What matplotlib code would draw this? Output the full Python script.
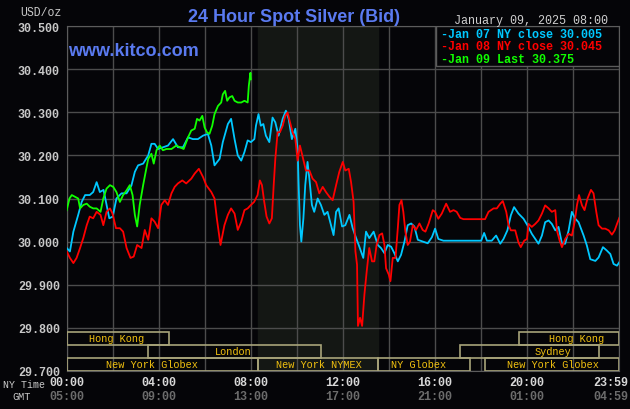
import matplotlib
matplotlib.use("Agg")
import matplotlib.pyplot as plt
from matplotlib.patches import Rectangle

# Kitco 24 hour spot silver (hour of NY day, USD/oz)
jan07_hours = [0.0, 0.14, 0.29, 0.5, 0.65, 0.8, 1.0, 1.15, 1.3, 1.44, 1.6, 1.73, 1.85, 2.0, 2.16, 2.38,
               2.6, 2.81, 2.96, 3.1, 3.32, 3.54, 3.68, 3.82, 3.97, 4.18, 4.4, 4.62, 4.83, 5.05, 5.27,
               5.48, 5.7, 5.92, 6.13, 6.28, 6.42, 6.64, 6.78, 7.0, 7.14, 7.29, 7.43, 7.58, 7.72, 7.86,
               8.0, 8.15, 8.22, 8.33, 8.43, 8.54, 8.65, 8.8, 8.94, 9.06, 9.2, 9.38, 9.52, 9.64, 9.78,
               9.93, 10.03, 10.07, 10.13, 10.19, 10.28, 10.36, 10.46, 10.54, 10.65, 10.75, 10.9, 11.04,
               11.19, 11.33, 11.48, 11.59, 11.7, 11.81, 11.96, 12.1, 12.28, 12.42, 12.57, 12.71, 12.88,
               13.0, 13.14, 13.33, 13.51, 13.65, 13.8, 13.94, 14.09, 14.23, 14.38, 14.52, 14.67, 14.81,
               14.96, 15.1, 15.25, 15.46, 15.68, 15.86, 16.0, 16.14, 16.36, 16.8, 17.38, 18.0, 18.13,
               18.25, 18.46, 18.65, 18.83, 18.97, 19.14, 19.29, 19.43, 19.62, 19.84, 20.01, 20.2, 20.49,
               20.64, 20.78, 20.93, 21.07, 21.22, 21.36, 21.51, 21.65, 21.8, 21.94, 22.09, 22.23, 22.45,
               22.59, 22.74, 22.96, 23.1, 23.29, 23.46, 23.61, 23.75, 23.9, 24.0]
jan07_price = [29.985, 29.977, 30.023, 30.062, 30.092, 30.108, 30.108, 30.115, 30.138, 30.115, 30.12,
               30.085, 30.054, 30.058, 30.1, 30.112, 30.112, 30.13, 30.162, 30.177, 30.181, 30.2, 30.227,
               30.227, 30.215, 30.219, 30.223, 30.238, 30.219, 30.219, 30.242, 30.238, 30.238, 30.246,
               30.25, 30.223, 30.177, 30.192, 30.231, 30.273, 30.285, 30.238, 30.2, 30.188, 30.208,
               30.235, 30.231, 30.238, 30.269, 30.296, 30.269, 30.273, 30.246, 30.231, 30.288, 30.277,
               30.246, 30.285, 30.304, 30.285, 30.238, 30.262, 30.215, 30.138, 30.038, 30.0, 30.054,
               30.131, 30.185, 30.146, 30.085, 30.069, 30.1, 30.085, 30.062, 30.069, 30.038, 30.015,
               30.069, 30.077, 30.035, 30.038, 30.062, 30.031, 30.008, 29.988, 29.962, 30.023, 30.008,
               30.023, 29.992, 29.985, 29.973, 29.992, 29.988, 29.973, 29.954, 29.969, 30.0, 30.038,
               30.042, 30.035, 30.004, 30.0, 29.996, 30.01, 30.03, 30.006, 30.002, 30.002, 30.002,
               30.002, 30.02, 30.002, 30.002, 30.014, 29.995, 30.006, 30.026, 30.061, 30.08, 30.065,
               30.053, 30.038, 30.018, 29.995, 30.014, 30.045, 30.049, 30.041, 30.026, 30.034, 29.995,
               29.995, 30.026, 30.069, 30.053, 30.045, 30.014, 29.991, 29.959, 29.955, 29.963, 29.987,
               29.979, 29.971, 29.948, 29.944, 29.952]

jan08_hours = [0.0, 0.14, 0.29, 0.43, 0.58, 0.72, 0.87, 1.0, 1.15, 1.3, 1.47, 1.59, 1.73, 1.88, 1.99,
               2.14, 2.31, 2.45, 2.6, 2.77, 2.91, 3.06, 3.25, 3.39, 3.54, 3.68, 3.82, 3.97, 4.11, 4.26,
               4.4, 4.55, 4.69, 4.83, 5.02, 5.19, 5.41, 5.56, 5.74, 5.92, 6.06, 6.28, 6.42, 6.52, 6.68,
               6.85, 7.0, 7.14, 7.29, 7.43, 7.58, 7.72, 7.86, 8.0, 8.14, 8.29, 8.39, 8.48, 8.58, 8.68,
               8.8, 8.91, 8.99, 9.06, 9.16, 9.26, 9.38, 9.49, 9.59, 9.7, 9.81, 9.93, 10.03, 10.13,
               10.25, 10.39, 10.54, 10.68, 10.83, 10.97, 11.12, 11.26, 11.41, 11.55, 11.7, 11.84,
               11.99, 12.1, 12.25, 12.35, 12.46, 12.54, 12.61, 12.65, 12.74, 12.83, 12.93, 13.03,
               13.14, 13.26, 13.36, 13.46, 13.58, 13.7, 13.8, 13.87, 13.99, 14.06, 14.16, 14.28,
               14.38, 14.45, 14.54, 14.62, 14.71, 14.81, 14.91, 15.03, 15.17, 15.32, 15.46, 15.58,
               15.72, 15.9, 16.0, 16.14, 16.29, 16.48, 16.65, 16.8, 16.94, 17.09, 17.23, 17.65,
               18.17, 18.32, 18.54, 18.68, 18.83, 18.94, 19.09, 19.19, 19.29, 19.48, 19.62, 19.72,
               19.87, 19.99, 20.06, 20.2, 20.35, 20.49, 20.64, 20.78, 20.93, 21.07, 21.22, 21.29,
               21.41, 21.51, 21.65, 21.8, 21.94, 22.06, 22.16, 22.25, 22.38, 22.49, 22.62, 22.77,
               22.88, 23.0, 23.1, 23.25, 23.39, 23.54, 23.68, 23.8, 23.9, 24.0]
jan08_price = [29.977, 29.962, 29.95, 29.962, 29.985, 30.008, 30.038, 30.058, 30.054, 30.069, 30.062,
               30.038, 30.069, 30.077, 30.065, 30.031, 30.031, 30.023, 29.985, 29.962, 29.965, 29.992,
               29.985, 30.027, 30.004, 30.054, 30.046, 30.031, 30.085, 30.096, 30.085, 30.112, 30.127,
               30.135, 30.142, 30.135, 30.146, 30.158, 30.169, 30.15, 30.131, 30.115, 30.1, 30.054,
               29.992, 30.038, 30.062, 30.077, 30.065, 30.027, 30.046, 30.073, 30.077, 30.085, 30.092,
               30.108, 30.142, 30.131, 30.092, 30.058, 30.042, 30.054, 30.131, 30.192, 30.254, 30.254,
               30.269, 30.292, 30.3, 30.277, 30.254, 30.238, 30.188, 30.223, 30.196, 30.165, 30.165,
               30.146, 30.138, 30.112, 30.127, 30.115, 30.104, 30.096, 30.131, 30.162, 30.185, 30.165,
               30.169, 30.138, 30.092, 29.977, 29.946, 29.804, 29.823, 29.804, 29.877, 29.931, 29.985,
               29.954, 29.954, 29.992, 30.015, 30.019, 29.992, 29.938, 29.923, 29.908, 29.962, 29.962,
               30.031, 30.085, 30.096, 30.069, 30.023, 29.992, 30.0, 30.038, 30.027, 30.042, 30.027,
               30.023, 30.042, 30.073, 30.069, 30.053, 30.065, 30.088, 30.069, 30.073, 30.069, 30.055,
               30.052, 30.052, 30.052, 30.069, 30.077, 30.077, 30.088, 30.094, 30.069, 30.038, 30.026,
               30.026, 29.998, 29.987, 30.002, 30.006, 30.041, 30.034, 30.041, 30.049, 30.065, 30.084,
               30.077, 30.069, 30.073, 30.026, 30.002, 29.987, 30.006, 30.018, 30.014, 30.045, 30.084,
               30.108, 30.084, 30.073, 30.1, 30.12, 30.112, 30.069, 30.038, 30.03, 30.03, 30.026,
               30.016, 30.026, 30.041, 30.055]

jan09_hours = [0.0, 0.12, 0.22, 0.36, 0.5, 0.58, 0.72, 0.87, 1.0, 1.15, 1.3, 1.47, 1.59, 1.73, 1.88,
               2.02, 2.16, 2.31, 2.45, 2.6, 2.74, 2.86, 2.96, 3.06, 3.17, 3.32, 3.43, 3.54, 3.68, 3.78,
               3.9, 4.04, 4.18, 4.33, 4.55, 4.76, 4.91, 5.08, 5.27, 5.41, 5.56, 5.66, 5.77, 5.89, 5.99,
               6.09, 6.2, 6.32, 6.42, 6.57, 6.71, 6.78, 6.88, 6.97, 7.07, 7.19, 7.29, 7.43, 7.58, 7.72,
               7.86, 7.91, 7.98, 8.0]
jan09_price = [30.073, 30.1, 30.108, 30.104, 30.1, 30.077, 30.085, 30.088, 30.081, 30.077, 30.077,
               30.069, 30.1, 30.123, 30.131, 30.127, 30.115, 30.092, 30.108, 30.119, 30.131, 30.108,
               30.062, 30.035, 30.085, 30.131, 30.162, 30.192, 30.204, 30.181, 30.212, 30.223, 30.212,
               30.215, 30.215, 30.223, 30.219, 30.215, 30.242, 30.258, 30.262, 30.285, 30.281, 30.292,
               30.265, 30.254, 30.25, 30.269, 30.296, 30.315, 30.323, 30.342, 30.35, 30.327, 30.335,
               30.338, 30.327, 30.323, 30.323, 30.327, 30.323, 30.362, 30.392, 30.377]

legend_lines = ["-Jan 07 NY close 30.005", "-Jan 08 NY close 30.045", "-Jan 09 Last 30.375"]

# trading sessions: (name, start hour, end hour, row, label hour)
sessions = [
    ("Hong Kong", 0.0, 4.45, 2, 2.15),
    ("Hong Kong", 19.65, 24.0, 2, 22.15),
    ("London", 3.55, 11.05, 1, 7.25),
    ("Sydney", 17.1, 23.1, 1, 21.1),
    ("New York Globex", 0.0, 8.33, 0, 3.7),
    ("New York NYMEX", 8.33, 13.5, 0, 10.95),
    ("NY Globex", 13.5, 17.5, 0, 15.3),
    ("New York Globex", 18.15, 24.0, 0, 21.1),
]

ny_ticks = ["00:00", "04:00", "08:00", "12:00", "16:00", "20:00", "23:59"]
gmt_ticks = ["05:00", "09:00", "13:00", "17:00", "21:00", "01:00", "04:59"]
tick_hours = [0, 4, 8, 12, 16, 20, 24]

bg = "#050508"
grid_col = "#4c4c4c"
blue = "#5a7af0"
mono = "Liberation Mono"
colors = ["#00c8ff", "#ff0000", "#10ff00"]

fig = plt.figure(figsize=(6.3, 4.1), dpi=100, facecolor=bg)
ax = fig.add_axes([66.7 / 630, 1 - 371.7 / 410, 552.6 / 630, 344.4 / 410])
ax.set_facecolor(bg)
ax.set_xlim(0, 24)
ax.set_ylim(29.7, 30.5)

# NYMEX open shading
ax.axvspan(8.33, 13.5, color="#141714", zorder=0)

ax.set_xticks(range(0, 25, 2))
ax.set_yticks([29.7 + 0.1 * i for i in range(9)])
ax.grid(True, color=grid_col, lw=1.0, zorder=1)
ax.set_xticklabels([])
ax.set_yticklabels(["%.3f" % (29.7 + 0.1 * i) for i in range(9)],
                   fontfamily=mono, fontweight="bold", fontsize=8.5, color="#c8c8c8")
ax.tick_params(length=0, pad=5)
for s in ax.spines.values():
    s.set_color("#5c5c5c")

ax.plot(jan07_hours, jan07_price, color=colors[0], lw=1.3, zorder=4)
ax.plot(jan08_hours, jan08_price, color=colors[1], lw=1.3, zorder=5)
ax.plot(jan09_hours, jan09_price, color=colors[2], lw=1.3, zorder=6)

# session boxes at the bottom
row_h = 0.03
for name, x0, x1, row, lx in sessions:
    y0 = 29.7 + row * row_h
    ax.add_patch(Rectangle((x0, y0), x1 - x0, row_h, fill=False,
                           edgecolor="#a8a47a", lw=1.2, zorder=3))
    ax.text(lx, y0 + row_h / 2, name, ha="center", va="center", fontfamily=mono,
            fontsize=7.4, color="#f0c010", zorder=3)

# legend box
ax.add_patch(Rectangle((0.668, 0.885), 0.332, 0.115, transform=ax.transAxes,
                       facecolor=bg, edgecolor="#5c5c5c", lw=1.0, zorder=7))
for i, (txt, c) in enumerate(zip(legend_lines, colors)):
    fig.text(441.5 / 630, 1 - (37.7 + 12.8 * i) / 410, txt, color=c, fontfamily=mono,
             fontweight="bold", fontsize=8.5, va="baseline", zorder=8)

# x labels, NY time and GMT rows
tr = ax.get_xaxis_transform()
for h, ny, gmt in zip(tick_hours, ny_ticks, gmt_ticks):
    xx = h
    if h == 24:
        xx = 23.62
    ax.text(xx, -0.032, ny, transform=tr, ha="center", va="center", fontfamily=mono,
            fontweight="bold", fontsize=8.5, color="#d8d8d8")
    ax.text(xx, -0.074, gmt, transform=tr, ha="center", va="center", fontfamily=mono,
            fontweight="bold", fontsize=8.5, color="#6c6c6c")

fig.text(3 / 630, 1 - 385 / 410, "NY Time", fontfamily=mono, fontsize=7.2,
         color="#c8c8c8", va="center")
fig.text(12 / 630, 1 - 397.5 / 410, "GMT", fontfamily=mono, fontsize=7.4,
         color="#c8c8c8", va="center")
fig.text(20 / 630, 1 - 13.3 / 410, "USD/oz", fontfamily=mono, fontsize=8.3,
         color="#c8c8c8", va="center")

fig.text(293.8 / 630, 1 - 21.7 / 410, "24 Hour Spot Silver (Bid)", ha="center",
         va="baseline", fontfamily="Liberation Sans", fontweight="bold", fontsize=13, color=blue)
fig.text(68 / 630, 1 - 56 / 410, "www.kitco.com", va="baseline",
         fontfamily="Liberation Sans", fontweight="bold", fontsize=13, color=blue)
fig.text(608 / 630, 1 - 24 / 410, "January 09, 2025 08:00", ha="right", va="baseline",
         fontfamily=mono, fontsize=8.5, color="#d0d0d0")

fig.savefig("out.png", dpi=100, facecolor=bg)
